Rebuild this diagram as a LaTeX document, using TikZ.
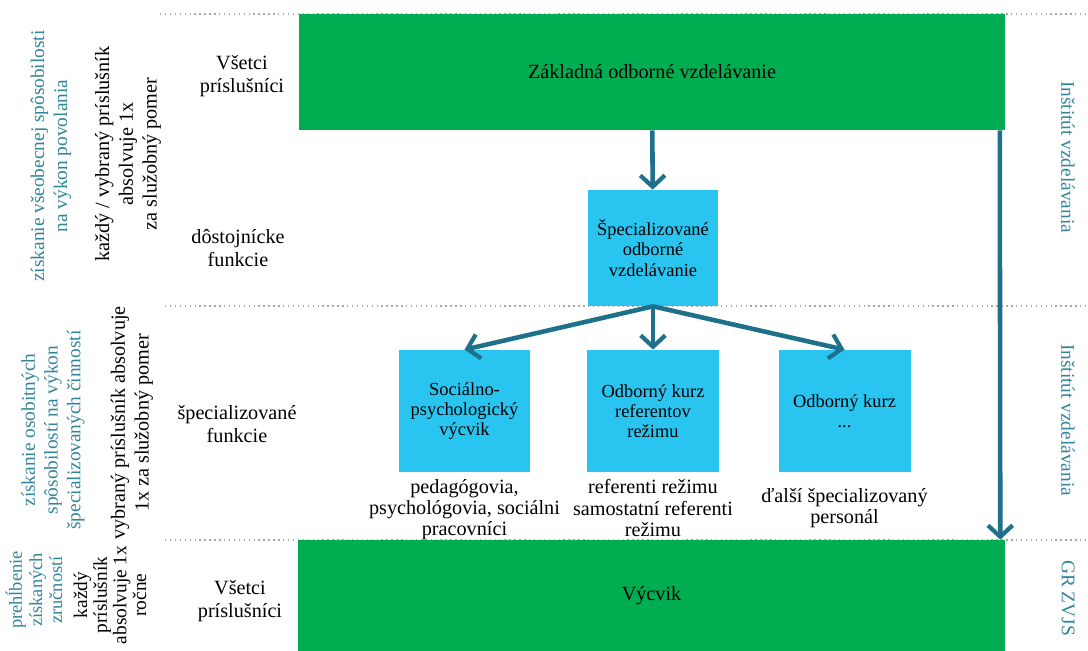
\documentclass[tikz,border=0pt]{standalone}
\usepackage{fontspec}
\setmainfont{Liberation Serif}
\usetikzlibrary{arrows.meta, positioning}

\definecolor{boxgreen}{RGB}{0,173,80}
\definecolor{boxblue}{RGB}{41,197,240}
\definecolor{arrowteal}{RGB}{31,112,138}
\definecolor{textteal}{RGB}{49,133,155}

\tikzstyle{mainbox} = [
    rectangle,
    fill=boxgreen,
    inner sep=0pt,
    minimum width=14.14cm,
    font=\fontsize{11.5}{13}\selectfont
]
\tikzstyle{specbox} = [
    rectangle,
    fill=boxblue,
    inner sep=0pt,
    align=center,
    minimum width=2.64cm,
    font=\fontsize{10.5}{11.5}\selectfont
]
\tikzstyle{rowlabel} = [
    align=center,
    inner sep=0pt,
    font=\fontsize{11.5}{13}\selectfont
]
\tikzstyle{wholabel} = [rowlabel, font=\fontsize{11.5}{12}\selectfont]
\tikzstyle{sidelabel} = [
    rotate=90,
    align=center,
    inner sep=0pt,
    font=\fontsize{11.5}{13.5}\selectfont
]
\tikzstyle{goallabel} = [sidelabel, text=textteal,
    font=\fontsize{11}{13}\selectfont]
\tikzstyle{placelabel} = [
    rotate=-90,
    text=textteal,
    inner sep=0pt,
    font=\fontsize{11}{13}\selectfont
]
\tikzstyle{divider} = [gray!70, dotted, thick]
\tikzstyle{arrow} = [arrowteal, line width=2.6pt,
    -{Straight Barb[length=6.5pt, width=14pt, line width=2.4pt]}]

\begin{document}
\begin{tikzpicture}[x=0.02cm, y=-0.02cm]
\useasboundingbox (0,0) rectangle (1088,651);

% dividers
\draw [divider] (160,14) -- (1088,14);
\draw [divider] (165,306) -- (1088,306);
\draw [divider] (165,540) -- (1088,540);

% green boxes
\node (zakl) [mainbox, minimum height=2.32cm] at (652,72)
{Základná odborné vzdelávanie};
\node (vycvik) [mainbox, minimum height=2.22cm] at (651.5,595.5)
{Výcvik};

% blue boxes
\node (spec) [specbox, minimum width=2.6cm, minimum height=2.32cm] at (653,248)
{Špecializované\\odborné\\vzdelávanie};
\node (soc) [specbox, minimum height=2.44cm] at (464.5,411)
{Sociálno-\\psychologický\\výcvik};
\node (refkurz) [specbox, minimum height=2.44cm] at (653,411)
{Odborný kurz\\referentov\\režimu};
\node (inykurz) [specbox, minimum height=2.44cm] at (844.5,411)
{Odborný kurz\\...};

% who attends
\node (socwho) [wholabel, below=0.14cm of soc]
{pedagógovia,\\psychológovia, sociálni\\pracovníci};
\node (refwho) [wholabel, below=0.14cm of refkurz]
{referenti režimu\\samostatní referenti\\režimu};
\node (inywho) [wholabel, below=0.32cm of inykurz]
{ďalší špecializovaný\\personál};

% row labels
\node (all1) [rowlabel] at (242,76) {Všetci\\príslušníci};
\node (dost) [rowlabel] at (238,248) {dôstojnícke\\funkcie};
\node (spfun) [rowlabel] at (237,424) {špecializované\\funkcie};
\node (all2) [rowlabel] at (240,601) {Všetci\\príslušníci};

% goals and frequency
\node (goal1) [goallabel] at (51,156)
{získanie všeobecnej spôsobilosti\\na výkon povolania};
\node (freq1) [sidelabel] at (128,154)
{každý / vybraný príslušník\\absolvuje 1x\\za služobný pomer};
\node (goal2) [goallabel] at (53,430)
{získanie osobitných\\spôsobilostí na výkon\\špecializovaných činností};
\node (freq2) [sidelabel] at (132,423)
{vybraný príslušník absolvuje\\1x za služobný pomer};
\node (goal3) [goallabel, font=\fontsize{10.5}{11.5}\selectfont] at (34,590)
{prehĺbenie\\získaných\\zručností};
\node (freq3) [sidelabel, font=\fontsize{11}{11.2}\selectfont] at (110,595)
{každý\\príslušník\\absolvuje 1x\\ročne};

% institutions
\node (inst1) [placelabel] at (1068,157) {Inštitút vzdelávania};
\node (inst2) [placelabel] at (1068,420) {Inštitút vzdelávania};
\node (grzvjs) [placelabel] at (1068,598) {GR ZVJS};

% arrows
\coordinate (rtop) at ([xshift=-0.12cm]zakl.south east);
\coordinate (rbot) at ([xshift=-0.1cm]vycvik.north east);
\draw [arrow] (zakl) -- (spec);
\draw [arrow] (spec.south) -- (soc.north);
\draw [arrow] (spec.south) -- (refkurz.north);
\draw [arrow] (spec.south) -- (inykurz.north);
\draw [arrow] (rtop) -- (rbot);

\end{tikzpicture}
\end{document}
